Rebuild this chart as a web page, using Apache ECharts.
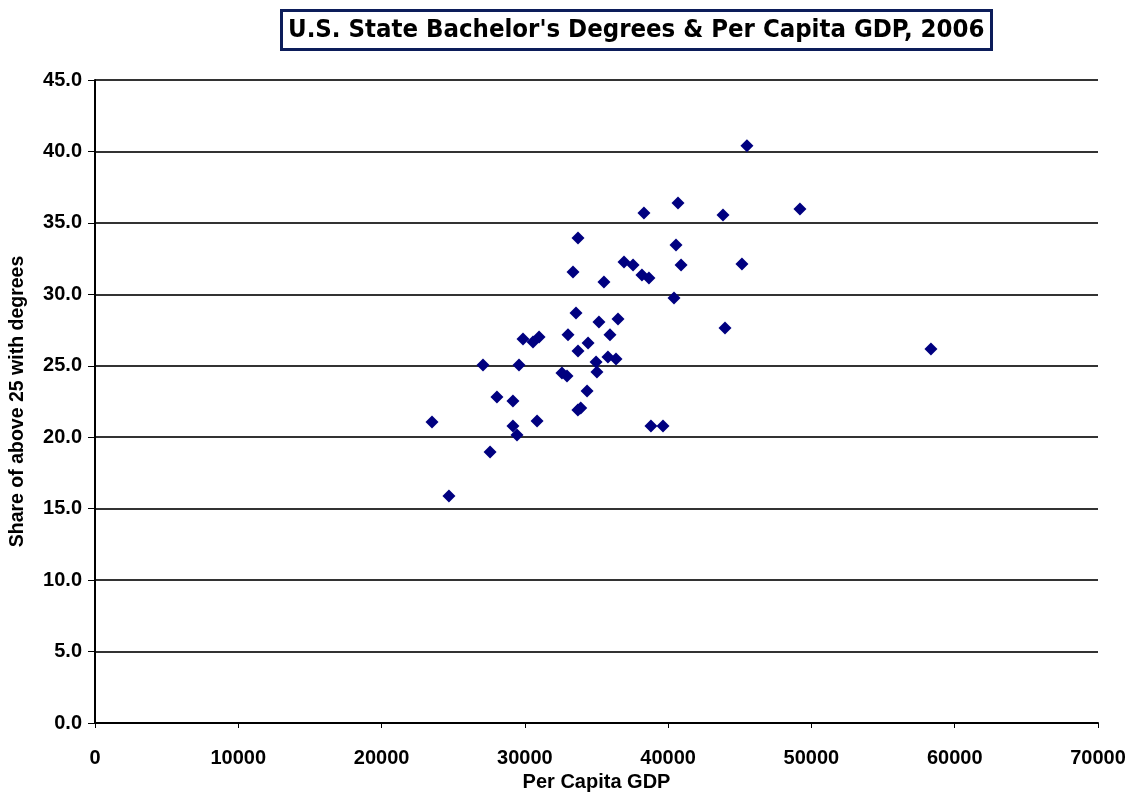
<!DOCTYPE html>
<html>
<head>
<meta charset="utf-8">
<script src="https://cdn.jsdelivr.net/npm/echarts@6/dist/echarts.min.js"></script>
<style>html,body{margin:0;padding:0;background:#fff;}#c{width:1136px;height:794px;}</style>
</head>
<body>
<div id="c"></div>
<script>
var titleText = "U.S. State Bachelor's Degrees & Per Capita GDP, 2006";
var xName = "Per Capita GDP";
var yName = "Share of above 25 with degrees";
var gdp = [45500, 43830, 49200, 45150, 43970, 58340, 38310, 40690, 33710, 40550,
           33360, 36920, 37550, 40900, 35520, 38170, 38660, 40410, 33570, 35170,
           36500, 33010, 35940, 34410, 33710, 35800, 36360, 34970, 35030, 32590,
           32940, 34340, 33700, 33900, 38800, 39640, 29870, 30570, 30990, 27080,
           29590, 28050, 29170, 23520, 29170, 29450, 30850, 27570, 24700];
var share = [40.4, 35.55, 35.97, 32.12, 27.64, 26.17, 35.69, 36.39, 33.94, 33.45,
             31.56, 32.26, 32.05, 32.05, 30.86, 31.35, 31.14, 29.74, 28.70, 28.06,
             28.27, 27.17, 27.17, 26.6, 26.04, 25.62, 25.47, 25.26, 24.56, 24.49,
             24.28, 23.23, 21.9, 22.05, 20.78, 20.78, 26.87, 26.66, 27.01, 25.05,
             25.05, 22.82, 22.54, 21.07, 20.78, 20.15, 21.14, 18.96, 15.89];

var points = gdp.map(function (g, i) { return [g, share[i]]; });
var chart = echarts.init(document.getElementById('c'), null, {renderer: 'canvas'});
var axisFont = "'Liberation Sans', Arial, sans-serif";
var labelFont = {fontFamily: axisFont, fontWeight: 'bold', fontSize: 20, color: '#000'};
chart.setOption({
  backgroundColor: '#fff',
  animation: false,
  title: {
    text: titleText,
    left: 281, top: 10,
    padding: [6, 7, 5, 7],
    backgroundColor: '#fff',
    borderColor: '#0c1d5a',
    borderWidth: 3,
    textStyle: {fontFamily: "'Liberation Sans Narrow', 'DejaVu Sans Condensed', sans-serif", fontWeight: 'bold', fontSize: 25.5, color: '#000', lineHeight: 29}
  },
  grid: {left: 95, right: 38, top: 80, bottom: 71, containLabel: false, outerBoundsMode: 'none'},
  xAxis: {
    type: 'value', min: 0, max: 70000, interval: 10000,
    name: xName, nameLocation: 'middle', nameGap: 48,
    nameTextStyle: {fontFamily: axisFont, fontWeight: 'bold', fontSize: 20, color: '#000'},
    axisLine: {show: true, onZero: false, lineStyle: {color: '#000', width: 2}},
    axisTick: {show: true, inside: false, length: 5, lineStyle: {color: '#000', width: 1}},
    axisLabel: Object.assign({margin: 25, formatter: function (v) { return String(v); }}, labelFont),
    splitLine: {show: false}
  },
  yAxis: {
    type: 'value', min: 0, max: 45, interval: 5,
    name: yName, nameLocation: 'middle', nameGap: 67, nameRotate: 90,
    nameTextStyle: {fontFamily: axisFont, fontWeight: 'bold', fontSize: 19.5, color: '#000'},
    axisLine: {show: true, lineStyle: {color: '#000', width: 2}},
    axisTick: {show: true, inside: false, length: 7, lineStyle: {color: '#000', width: 1}},
    axisLabel: Object.assign({margin: 13, formatter: function (v) { return v.toFixed(1); }}, labelFont),
    splitLine: {show: true, lineStyle: {color: '#333', width: 2}}
  },
  series: [{
    type: 'scatter',
    data: points,
    symbol: 'diamond',
    symbolSize: 13,
    itemStyle: {color: '#000080', opacity: 1}
  }]
});
</script>
</body>
</html>
